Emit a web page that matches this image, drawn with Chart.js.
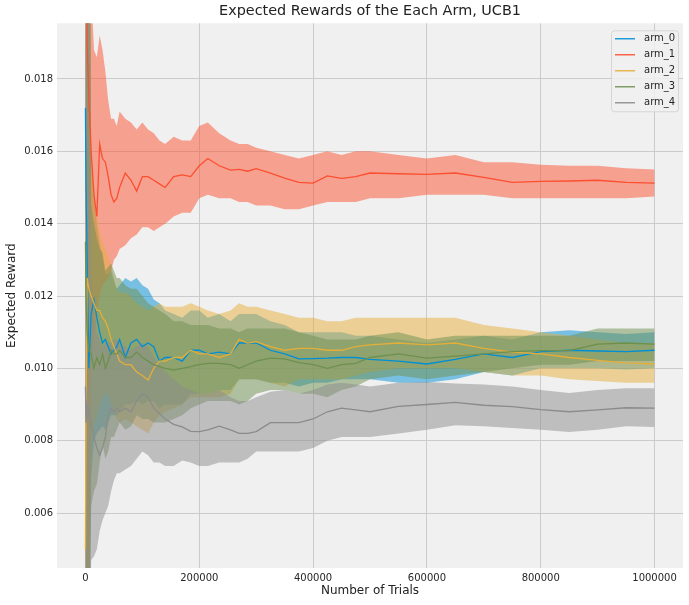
<!DOCTYPE html>
<html>
<head>
<meta charset="utf-8">
<script src="https://cdn.jsdelivr.net/npm/chart.js@4.4.1/dist/chart.umd.min.js"></script>
<style>
html,body{margin:0;padding:0;background:#ffffff;}
#wrap{width:689px;height:605px;}
</style>
</head>
<body>
<div id="wrap"><canvas id="c" width="689" height="605"></canvas></div>
<script>
const chartTitle = "Expected Rewards of the Each Arm, UCB1";
const xTitle = "Number of Trials";
const yTitle = "Expected Reward";
const armNames = ["arm_0", "arm_1", "arm_2", "arm_3", "arm_4"];
const armColors = ["#008fd5", "#fc4f30", "#e5ae38", "#6d904f", "#8b8b8b"];
const xTicks = [0, 200000, 400000, 600000, 800000, 1000000];
const yTicks = [0.006, 0.008, 0.010, 0.012, 0.014, 0.016, 0.018];

const trials = [0, 1000, 3000, 6000, 10000, 15000, 20000, 25000, 30000, 35000, 40000, 45000, 50000, 55000, 60000, 70000, 80000, 90000, 100000, 110000, 120000, 130000, 140000, 155000, 170000, 185000, 200000, 215000, 235000, 255000, 270000, 285000, 300000, 325000, 350000, 375000, 400000, 425000, 450000, 475000, 500000, 550000, 600000, 650000, 700000, 750000, 800000, 850000, 900000, 950000, 1000000];

// arm_0 (blue)
const arm0Mean = [0.0172, 0.0150, 0.0130, 0.0100, 0.0115, 0.0119, 0.0114, 0.0110, 0.0107, 0.0108, 0.0106, 0.0104, 0.0105, 0.0106, 0.0108, 0.0103, 0.0107, 0.0108, 0.0106, 0.0107, 0.0106, 0.0102, 0.0103, 0.0103, 0.0102, 0.0105, 0.0105, 0.0104, 0.01045, 0.0104, 0.0107, 0.0107, 0.0107, 0.0105, 0.0104, 0.01026, 0.01027, 0.01028, 0.0103, 0.0103, 0.01025, 0.0102, 0.01012, 0.01025, 0.0104, 0.0103, 0.01046, 0.0105, 0.01048, 0.01046, 0.0105];
const arm0Upper = [0.03, 0.03, 0.03, 0.03, 0.0160, 0.0148, 0.0140, 0.0135, 0.0130, 0.0126, 0.0126, 0.0127, 0.0124, 0.0122, 0.0123, 0.0125, 0.0124, 0.0125, 0.0123, 0.0122, 0.0119, 0.0118, 0.0116, 0.0115, 0.0114, 0.0116, 0.0116, 0.0114, 0.0115, 0.0113, 0.0115, 0.0115, 0.0115, 0.0113, 0.0112, 0.0110, 0.0110, 0.0110, 0.0110, 0.0109, 0.0109, 0.0108, 0.0107, 0.0108, 0.0109, 0.0108, 0.0110, 0.01105, 0.0110, 0.01095, 0.0110];
const arm0Lower = [0.0, 0.0, 0.0, 0.0, 0.0070, 0.0080, 0.0082, 0.0083, 0.0084, 0.0083, 0.0085, 0.0087, 0.0087, 0.0087, 0.0088, 0.0090, 0.0090, 0.0091, 0.0090, 0.0091, 0.0091, 0.0089, 0.0090, 0.0090, 0.0090, 0.0093, 0.0093, 0.0093, 0.0094, 0.0094, 0.0097, 0.0097, 0.0097, 0.0096, 0.0096, 0.0095, 0.0096, 0.0096, 0.0097, 0.0097, 0.0097, 0.0096, 0.0096, 0.0097, 0.0099, 0.0098, 0.0100, 0.0100, 0.0100, 0.00997, 0.0100];

// arm_1 (red)
const arm1Mean = [0.0300, 0.0260, 0.0190, 0.0175, 0.0160, 0.0148, 0.0142, 0.0162, 0.0158, 0.0157, 0.0153, 0.0148, 0.0146, 0.0147, 0.0150, 0.0154, 0.0152, 0.0149, 0.0153, 0.0153, 0.0152, 0.0151, 0.0150, 0.0153, 0.01535, 0.0153, 0.0156, 0.0158, 0.0156, 0.01548, 0.0155, 0.01545, 0.01552, 0.0154, 0.01526, 0.01514, 0.01512, 0.01532, 0.01525, 0.0153, 0.0154, 0.01538, 0.01536, 0.0154, 0.01528, 0.01514, 0.01517, 0.01518, 0.0152, 0.01514, 0.01512];
const arm1Upper = [0.03, 0.03, 0.03, 0.03, 0.0205, 0.0188, 0.0186, 0.0192, 0.0188, 0.0182, 0.0174, 0.0169, 0.0169, 0.0167, 0.0171, 0.0169, 0.0168, 0.0166, 0.0168, 0.0166, 0.0165, 0.0163, 0.0162, 0.0164, 0.0163, 0.0163, 0.0167, 0.0168, 0.0165, 0.0163, 0.0162, 0.0162, 0.0161, 0.0160, 0.0159, 0.0158, 0.0159, 0.0160, 0.0159, 0.0160, 0.0160, 0.0159, 0.0158, 0.0159, 0.0157, 0.0157, 0.01563, 0.0156, 0.0156, 0.01553, 0.0155];
const arm1Lower = [0.0, 0.0, 0.0, 0.0, 0.0100, 0.0108, 0.0115, 0.0120, 0.0123, 0.0124, 0.0125, 0.0127, 0.0130, 0.0131, 0.0133, 0.0134, 0.0136, 0.0137, 0.0139, 0.0139, 0.0138, 0.0139, 0.0140, 0.0142, 0.0143, 0.0143, 0.0147, 0.0148, 0.0147, 0.0147, 0.0146, 0.0146, 0.0145, 0.0145, 0.0144, 0.0144, 0.0145, 0.0146, 0.0146, 0.0146, 0.0147, 0.0147, 0.0148, 0.0148, 0.0148, 0.0147, 0.0147, 0.0147, 0.0147, 0.0147, 0.01475];

// arm_2 (orange)
const arm2Mean = [0.0050, 0.0090, 0.0125, 0.0122, 0.0120, 0.0118, 0.0116, 0.0116, 0.0114, 0.0113, 0.0111, 0.0108, 0.0106, 0.0104, 0.0102, 0.0101, 0.0101, 0.0099, 0.0098, 0.00968, 0.0100, 0.0102, 0.0102, 0.0103, 0.0103, 0.0105, 0.0104, 0.0104, 0.0103, 0.0104, 0.0108, 0.0107, 0.01074, 0.0106, 0.0105, 0.01055, 0.01055, 0.0105, 0.0105, 0.0106, 0.01065, 0.0107, 0.01065, 0.0107, 0.01055, 0.01045, 0.0104, 0.0103, 0.01022, 0.01015, 0.01012];
const arm2Upper = [0.03, 0.03, 0.03, 0.03, 0.0160, 0.0150, 0.0142, 0.0138, 0.0135, 0.0133, 0.0131, 0.0128, 0.0125, 0.0122, 0.0121, 0.0121, 0.0120, 0.0118, 0.0117, 0.0116, 0.0117, 0.0118, 0.0117, 0.0117, 0.0117, 0.0118, 0.0117, 0.0116, 0.0115, 0.0116, 0.0118, 0.0117, 0.0117, 0.0116, 0.0115, 0.0114, 0.0114, 0.0113, 0.0113, 0.0114, 0.0114, 0.0114, 0.0114, 0.0114, 0.0112, 0.0111, 0.0110, 0.0109, 0.0108, 0.0107, 0.0107];
const arm2Lower = [0.0, 0.0, 0.0, 0.0, 0.0080, 0.0084, 0.0087, 0.0090, 0.0092, 0.0093, 0.0093, 0.0090, 0.0088, 0.0086, 0.0085, 0.0086, 0.0085, 0.0084, 0.0083, 0.0082, 0.0085, 0.0087, 0.0088, 0.0089, 0.0090, 0.0092, 0.0092, 0.0092, 0.0092, 0.0093, 0.0097, 0.0097, 0.0097, 0.0096, 0.0095, 0.0097, 0.0097, 0.0097, 0.0097, 0.0098, 0.0099, 0.0100, 0.0100, 0.0100, 0.0099, 0.0098, 0.0098, 0.0097, 0.00965, 0.0096, 0.0096];

// arm_3 (green)
const arm3Mean = [0.0135, 0.0120, 0.0110, 0.0105, 0.0104, 0.0100, 0.0103, 0.0101, 0.0104, 0.0100, 0.0102, 0.0105, 0.0104, 0.0104, 0.0105, 0.0103, 0.0103, 0.01045, 0.0103, 0.0102, 0.0101, 0.01005, 0.0100, 0.00995, 0.0100, 0.01005, 0.0101, 0.01014, 0.01014, 0.0101, 0.0100, 0.0101, 0.0102, 0.01028, 0.01026, 0.01016, 0.0101, 0.0100, 0.0101, 0.01014, 0.0103, 0.0104, 0.01028, 0.01034, 0.0104, 0.01046, 0.01049, 0.01049, 0.01067, 0.0107, 0.01067];
const arm3Upper = [0.03, 0.03, 0.03, 0.03, 0.0145, 0.0140, 0.0136, 0.0133, 0.0132, 0.0127, 0.0128, 0.0129, 0.0127, 0.0125, 0.0125, 0.0123, 0.0122, 0.0122, 0.0120, 0.0118, 0.0117, 0.0116, 0.0115, 0.0113, 0.0113, 0.0112, 0.0112, 0.0112, 0.0111, 0.0111, 0.0110, 0.0111, 0.0111, 0.0111, 0.0111, 0.0110, 0.0109, 0.0108, 0.0108, 0.0108, 0.0109, 0.0110, 0.0108, 0.0109, 0.0109, 0.0109, 0.0109, 0.0109, 0.0111, 0.0111, 0.0111];
const arm3Lower = [0.0, 0.0, 0.0, 0.0, 0.0062, 0.0066, 0.0068, 0.0074, 0.0079, 0.0075, 0.0077, 0.0081, 0.0081, 0.0083, 0.0085, 0.0083, 0.0084, 0.0087, 0.0086, 0.0086, 0.0085, 0.0085, 0.0085, 0.0086, 0.0087, 0.0089, 0.0090, 0.0091, 0.0091, 0.0091, 0.0090, 0.0091, 0.0093, 0.0094, 0.0094, 0.0093, 0.0093, 0.0092, 0.0094, 0.0095, 0.0097, 0.0098, 0.0097, 0.0098, 0.0099, 0.0100, 0.0101, 0.0101, 0.0102, 0.0102, 0.0102];

// arm_4 (gray)
const arm4Mean = [0.0095, 0.0085, 0.0090, 0.0088, 0.0085, 0.0081, 0.0078, 0.0076, 0.0078, 0.0081, 0.0087, 0.0089, 0.0088, 0.0089, 0.0088, 0.0089, 0.0088, 0.0091, 0.0093, 0.0092, 0.0089, 0.00875, 0.0086, 0.00845, 0.00838, 0.00826, 0.00825, 0.0083, 0.0084, 0.0083, 0.0082, 0.0082, 0.00825, 0.0085, 0.0085, 0.0085, 0.0086, 0.0088, 0.0089, 0.00885, 0.0088, 0.00895, 0.0090, 0.00906, 0.00898, 0.00894, 0.00886, 0.0088, 0.00885, 0.00891, 0.0089];
const arm4Upper = [0.03, 0.03, 0.03, 0.03, 0.0125, 0.0115, 0.0110, 0.0108, 0.0106, 0.0107, 0.0107, 0.0107, 0.0108, 0.0108, 0.0107, 0.0106, 0.0105, 0.0106, 0.0107, 0.0106, 0.0103, 0.0101, 0.0099, 0.0097, 0.0095, 0.0094, 0.0093, 0.0093, 0.0094, 0.0092, 0.0091, 0.0091, 0.0092, 0.00935, 0.0094, 0.0093, 0.0094, 0.00955, 0.0096, 0.00955, 0.0095, 0.0096, 0.00962, 0.00958, 0.00955, 0.0095, 0.0094, 0.00932, 0.0094, 0.00945, 0.00945];
const arm4Lower = [0.0, 0.0, 0.0, 0.0, 0.0047, 0.0048, 0.0050, 0.0055, 0.0058, 0.0060, 0.0062, 0.0066, 0.0069, 0.0071, 0.0071, 0.0072, 0.0073, 0.0075, 0.0077, 0.0076, 0.0074, 0.0074, 0.0073, 0.0073, 0.00745, 0.0074, 0.0073, 0.0073, 0.0074, 0.0074, 0.0074, 0.0075, 0.0077, 0.0077, 0.0077, 0.0077, 0.0078, 0.0080, 0.0081, 0.0081, 0.0081, 0.0082, 0.0083, 0.00843, 0.0084, 0.00835, 0.0083, 0.00824, 0.0083, 0.0084, 0.00838];

const means = [arm0Mean, arm1Mean, arm2Mean, arm3Mean, arm4Mean];
const uppers = [arm0Upper, arm1Upper, arm2Upper, arm3Upper, arm4Upper];
const lowers = [arm0Lower, arm1Lower, arm2Lower, arm3Lower, arm4Lower];

function pts(vals) { return trials.map((x, i) => ({x: x, y: vals[i]})); }
function rgba(hex, a) {
  const n = parseInt(hex.slice(1), 16);
  return `rgba(${(n >> 16) & 255},${(n >> 8) & 255},${n & 255},${a})`;
}

const datasets = [];
armNames.forEach((name, i) => {
  datasets.push({
    label: name + "_lower", data: pts(lowers[i]), borderWidth: 0, pointRadius: 0,
    borderColor: "rgba(0,0,0,0)", fill: false, order: 20 - i
  });
  datasets.push({
    label: name + "_upper", data: pts(uppers[i]), borderWidth: 0, pointRadius: 0,
    borderColor: "rgba(0,0,0,0)", backgroundColor: rgba(armColors[i], 0.5),
    fill: "-1", order: 20 - i
  });
});
armNames.forEach((name, i) => {
  datasets.push({
    label: name, data: pts(means[i]), borderColor: armColors[i], borderWidth: 1.3,
    pointRadius: 0, fill: false, tension: 0, order: 5 - i
  });
});

const bgPlugin = {
  id: "bg",
  beforeDraw(chart) {
    const {ctx, chartArea: a} = chart;
    ctx.save();
    ctx.fillStyle = "#f0f0f0";
    ctx.fillRect(a.left, a.top, a.right - a.left, a.bottom - a.top);
    ctx.restore();
  }
};

const legendPlugin = {
  id: "customLegend",
  afterDraw(chart) {
    const ctx = chart.ctx;
    const a = chart.chartArea;
    const w = 67, h = 81;
    const x0 = a.right - 5 - w, y0 = a.top + 7;
    ctx.save();
    ctx.beginPath();
    if (ctx.roundRect) ctx.roundRect(x0 + 0.5, y0 + 0.5, w, h, 3); else ctx.rect(x0 + 0.5, y0 + 0.5, w, h);
    ctx.fillStyle = "rgba(240,240,240,0.85)";
    ctx.fill();
    ctx.strokeStyle = "#d6d6d6";
    ctx.lineWidth = 1;
    ctx.stroke();
    ctx.font = "10px 'DejaVu Sans'";
    ctx.textBaseline = "middle";
    ctx.textAlign = "left";
    armNames.forEach((name, i) => {
      const y = y0 + 8.5 + i * 16;
      ctx.strokeStyle = armColors[i];
      ctx.lineWidth = 1.3;
      ctx.beginPath();
      ctx.moveTo(x0 + 4, y);
      ctx.lineTo(x0 + 24, y);
      ctx.stroke();
      ctx.fillStyle = "#262626";
      ctx.fillText(name, x0 + 33, y);
    });
    ctx.restore();
  }
};

new Chart(document.getElementById("c"), {
  type: "line",
  data: { datasets: datasets },
  plugins: [bgPlugin, legendPlugin],
  options: {
    responsive: false,
    animation: false,
    devicePixelRatio: 1,
    layout: { padding: { left: 0, right: 6, top: 0, bottom: 0 } },
    plugins: {
      legend: { display: false },
      tooltip: { enabled: false },
      title: {
        display: true, text: chartTitle, fullSize: false,
        color: "#222222", font: { family: "DejaVu Sans", size: 14.4, weight: "normal" },
        padding: { top: 3, bottom: 3 }
      }
    },
    scales: {
      x: {
        type: "linear", min: -50000, max: 1050000,
        afterBuildTicks: s => { s.ticks = xTicks.map(v => ({value: v})); },
        afterFit: s => { s.height = 37; },
        grid: { color: "#cbcbcb", lineWidth: 1, drawTicks: false },
        border: { display: false },
        ticks: { color: "#262626", font: { family: "DejaVu Sans", size: 10 }, padding: 4, maxRotation: 0,
                 callback: v => String(v) },
        title: { display: true, text: xTitle, color: "#222222",
                 font: { family: "DejaVu Sans", size: 12 }, padding: { top: 0, bottom: 7 } }
      },
      y: {
        type: "linear", min: 0.00448, max: 0.01954,
        afterBuildTicks: s => { s.ticks = yTicks.map(v => ({value: v})); },
        afterFit: s => { s.width = 57; },
        grid: { color: "#cbcbcb", lineWidth: 1, drawTicks: false },
        border: { display: false },
        ticks: { color: "#262626", font: { family: "DejaVu Sans", size: 10 }, padding: 4,
                 callback: v => Number(v).toFixed(3) },
        title: { display: true, text: yTitle, color: "#222222",
                 font: { family: "DejaVu Sans", size: 12 }, padding: { top: 5, bottom: 0 } }
      }
    }
  }
});
</script>
</body>
</html>
